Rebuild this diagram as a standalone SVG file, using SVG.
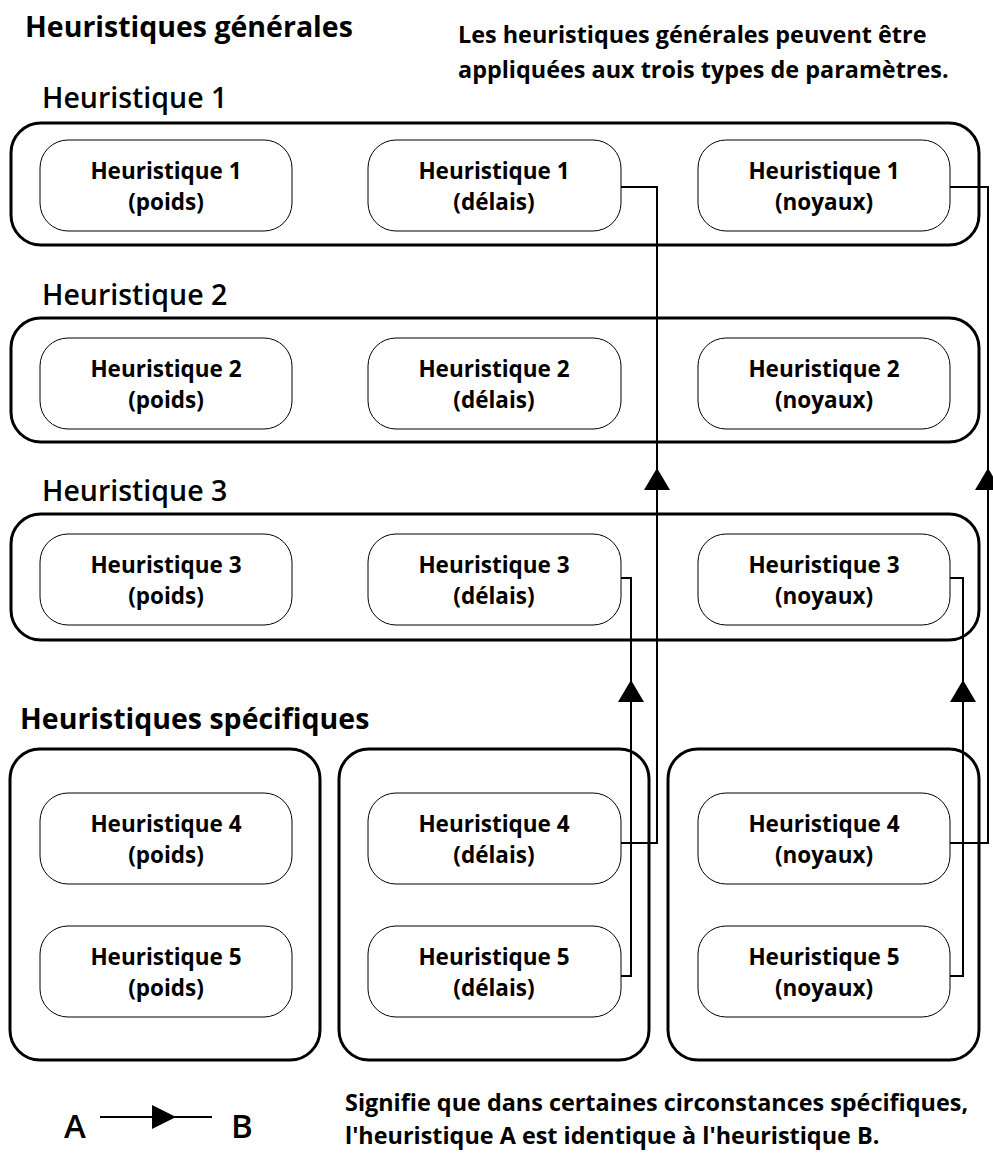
<svg xmlns="http://www.w3.org/2000/svg" width="993" height="1158" viewBox="0 0 993 1158">
<defs>
<style>
text{font-family:"Open Sans","Noto Sans","Liberation Sans",sans-serif;fill:#000}
.grp{fill:none;stroke:#000;stroke-width:3}
.nd{fill:#fff;stroke:#000;stroke-width:1}
.nt{font-size:22.5px;font-weight:700;text-anchor:middle}
.gl{font-size:28.5px;font-weight:600}
.ti{font-size:28.5px;font-weight:700}
.de{font-size:23.4px;font-weight:700}
.cn{fill:none;stroke:#000;stroke-width:2}
.ah{fill:#000}
</style>
</defs>
<rect width="993" height="1158" fill="#fff"/>
<text class="ti" x="25" y="37">Heuristiques générales</text>
<text class="de" x="458" y="43">Les heuristiques générales peuvent être</text>
<text class="de" x="458" y="78">appliquées aux trois types de paramètres.</text>
<text class="gl" x="42" y="108">Heuristique 1</text>
<text class="gl" x="42" y="305">Heuristique 2</text>
<text class="gl" x="42" y="501">Heuristique 3</text>
<text class="ti" x="20" y="729">Heuristiques spécifiques</text>

<g id="group-h1"><rect class="grp" x="11" y="123" width="968" height="122" rx="30"/></g>
<g id="group-h2"><rect class="grp" x="11" y="318" width="968" height="124" rx="30"/></g>
<g id="group-h3"><rect class="grp" x="11" y="514" width="968" height="126" rx="30"/></g>
<g id="group-poids"><rect class="grp" x="10" y="749" width="310" height="311" rx="30"/></g>
<g id="group-delais"><rect class="grp" x="339" y="749" width="310" height="311" rx="30"/></g>
<g id="group-noyaux"><rect class="grp" x="668" y="749" width="311" height="311" rx="30"/></g>

<g id="h1-poids"><rect class="nd" x="40" y="140" width="252" height="91" rx="28"/><text class="nt" x="166" y="179">Heuristique 1</text><text class="nt" x="166" y="210">(poids)</text></g>
<g id="h1-delais"><rect class="nd" x="368" y="140" width="253" height="91" rx="28"/><text class="nt" x="494" y="179">Heuristique 1</text><text class="nt" x="494" y="210">(délais)</text></g>
<g id="h1-noyaux"><rect class="nd" x="698" y="140" width="252" height="91" rx="28"/><text class="nt" x="824" y="179">Heuristique 1</text><text class="nt" x="824" y="210">(noyaux)</text></g>

<g id="h2-poids"><rect class="nd" x="40" y="338" width="252" height="91" rx="28"/><text class="nt" x="166" y="377">Heuristique 2</text><text class="nt" x="166" y="408">(poids)</text></g>
<g id="h2-delais"><rect class="nd" x="368" y="338" width="253" height="91" rx="28"/><text class="nt" x="494" y="377">Heuristique 2</text><text class="nt" x="494" y="408">(délais)</text></g>
<g id="h2-noyaux"><rect class="nd" x="698" y="338" width="252" height="91" rx="28"/><text class="nt" x="824" y="377">Heuristique 2</text><text class="nt" x="824" y="408">(noyaux)</text></g>

<g id="h3-poids"><rect class="nd" x="40" y="534" width="252" height="91" rx="28"/><text class="nt" x="166" y="573">Heuristique 3</text><text class="nt" x="166" y="604">(poids)</text></g>
<g id="h3-delais"><rect class="nd" x="368" y="534" width="253" height="91" rx="28"/><text class="nt" x="494" y="573">Heuristique 3</text><text class="nt" x="494" y="604">(délais)</text></g>
<g id="h3-noyaux"><rect class="nd" x="698" y="534" width="252" height="91" rx="28"/><text class="nt" x="824" y="573">Heuristique 3</text><text class="nt" x="824" y="604">(noyaux)</text></g>

<g id="h4-poids"><rect class="nd" x="40" y="793" width="252" height="91" rx="28"/><text class="nt" x="166" y="832">Heuristique 4</text><text class="nt" x="166" y="863">(poids)</text></g>
<g id="h4-delais"><rect class="nd" x="368" y="793" width="253" height="91" rx="28"/><text class="nt" x="494" y="832">Heuristique 4</text><text class="nt" x="494" y="863">(délais)</text></g>
<g id="h4-noyaux"><rect class="nd" x="698" y="793" width="252" height="91" rx="28"/><text class="nt" x="824" y="832">Heuristique 4</text><text class="nt" x="824" y="863">(noyaux)</text></g>

<g id="h5-poids"><rect class="nd" x="40" y="926" width="252" height="91" rx="28"/><text class="nt" x="166" y="965">Heuristique 5</text><text class="nt" x="166" y="996">(poids)</text></g>
<g id="h5-delais"><rect class="nd" x="368" y="926" width="253" height="91" rx="28"/><text class="nt" x="494" y="965">Heuristique 5</text><text class="nt" x="494" y="996">(délais)</text></g>
<g id="h5-noyaux"><rect class="nd" x="698" y="926" width="252" height="91" rx="28"/><text class="nt" x="824" y="965">Heuristique 5</text><text class="nt" x="824" y="996">(noyaux)</text></g>

<g id="connectors">
<polyline class="cn" points="621,843 657,843 657,187 621,187"/>
<polygon class="ah" points="657,468 670,490 644,490"/>
<polyline class="cn" points="950,843 988,843 988,187 950,187"/>
<polygon class="ah" points="988,468 1001,490 975,490"/>
<polyline class="cn" points="621,976 631,976 631,578 621,578"/>
<polygon class="ah" points="631,680 644,702 618,702"/>
<polyline class="cn" points="950,976 963,976 963,578 950,578"/>
<polygon class="ah" points="963,680 976,702 950,702"/>
</g>

<g id="legend">
<text x="64" y="1138" style="font-size:33px;font-weight:600">A</text>
<line class="cn" x1="100" y1="1117" x2="212" y2="1117"/>
<polygon class="ah" points="176,1117 152,1105 152,1129"/>
<text x="231" y="1138" style="font-size:33px;font-weight:600">B</text>
<text class="de" x="345" y="1111">Signifie que dans certaines circonstances spécifiques,</text>
<text class="de" x="345" y="1144">l'heuristique A est identique à l'heuristique B.</text>
</g>
</svg>
